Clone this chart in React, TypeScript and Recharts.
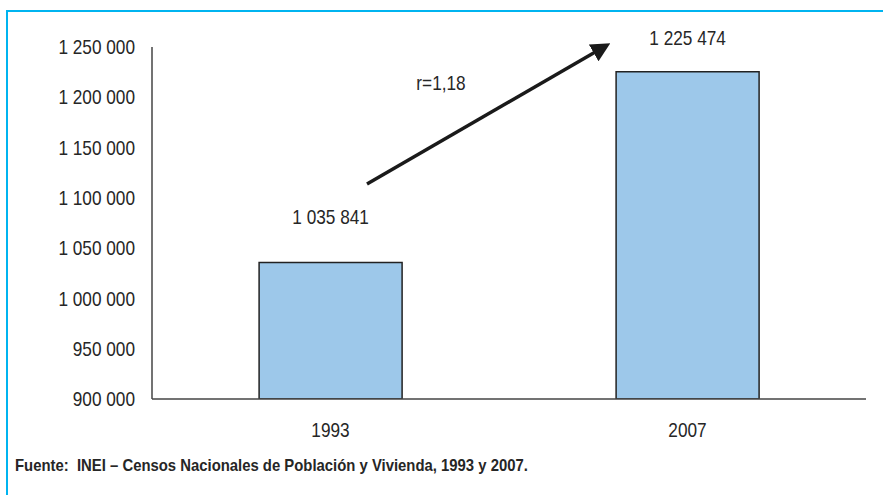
import { Bar, BarChart, LabelList, XAxis, YAxis } from "recharts";

const YEARS = ["1993", "2007"];
const POPULATION = [1035841, 1225474];
const Y_TICKS = [900000, 950000, 1000000, 1050000, 1100000, 1150000, 1200000, 1250000];
const RATIO_LABEL = "r=1,18";
const SOURCE = "Fuente:\u00a0 INEI – Censos Nacionales de Población y Vivienda, 1993 y 2007.";

const data = YEARS.map((year, i) => ({ year, value: POPULATION[i] }));

// Arial Narrow isn't installed, so squeeze Liberation Sans (Arial metrics) horizontally
const FONT = '"Liberation Sans", Arial, sans-serif';
const NARROW = 0.82;
const TEXT = "#262626";
// how far above each bar its value label sits
const LABEL_OFFSETS = [45, 34];

const fmt = (v: number) => Math.round(v).toLocaleString("en-US").replace(/,/g, " ");

function NarrowText({ x, y, anchor = "middle", size = 21, weight = "normal", squeeze = NARROW, children }: any) {
    return (
        <text
            transform={`translate(${x},${y}) scale(${squeeze},1)`}
            x={0}
            y={0}
            textAnchor={anchor}
            dominantBaseline="central"
            fill={TEXT}
            fontSize={size}
            fontWeight={weight}
            fontFamily={FONT}
        >
            {children}
        </text>
    );
}

const YTick = ({ x, y, payload }: any) => (
    <NarrowText x={x} y={y} anchor="end">{fmt(payload.value)}</NarrowText>
);

const XTick = ({ x, y, payload }: any) => (
    <NarrowText x={x} y={y}>{payload.value}</NarrowText>
);

const renderValueLabel = (props: any) => {
    const { x, y, width, value, index } = props;
    return (
        <NarrowText x={x + width / 2} y={y - LABEL_OFFSETS[index]}>
            {fmt(value)}
        </NarrowText>
    );
};

export default function App() {
    return (
        <div style={{ position: "absolute", left: 0, top: 0, width: 883, height: 495, overflow: "hidden", background: "#fff" }}>
            {/* frame */}
            <div style={{ position: "absolute", left: 6, top: 10, width: 900, height: 520, borderLeft: "2px solid #00b4f0", borderTop: "2px solid #00b4f0" }} />
            <BarChart
                width={883}
                height={495}
                data={data}
                margin={{ top: 47, right: 17, bottom: 66, left: 0 }}
                barCategoryGap="30%"
                style={{ position: "absolute", left: 0, top: 0 }}
            >
                <XAxis
                    dataKey="year"
                    height={30}
                    tickLine={false}
                    tickSize={0}
                    tickMargin={31}
                    axisLine={{ stroke: "#444", strokeWidth: 1.5 }}
                    tick={<XTick />}
                />
                <YAxis
                    width={152}
                    domain={[900000, 1250000]}
                    ticks={Y_TICKS}
                    allowDataOverflow
                    tickLine={false}
                    tickSize={0}
                    tickMargin={17}
                    axisLine={{ stroke: "#444", strokeWidth: 1.5 }}
                    tick={<YTick />}
                />
                <Bar dataKey="value" fill="#9dc8ea" stroke="#222" strokeWidth={1.5} isAnimationActive={false}>
                    <LabelList dataKey="value" content={renderValueLabel} />
                </Bar>
            </BarChart>
            <svg width={883} height={495} style={{ position: "absolute", left: 0, top: 0, pointerEvents: "none" }}>
                <defs>
                    <marker id="head" viewBox="0 0 10 10" refX="2" refY="5" markerWidth="5.5" markerHeight="5.5" orient="auto">
                        <path d="M0,0 L10,5 L0,10 z" fill="#1a1a1a" />
                    </marker>
                </defs>
                <line x1={367} y1={184} x2={597} y2={51} stroke="#1a1a1a" strokeWidth={3.5} markerEnd="url(#head)" />
                <NarrowText x={441} y={83}>{RATIO_LABEL}</NarrowText>
                <NarrowText x={15} y={465} anchor="start" size={16} weight="bold" squeeze={0.93}>{SOURCE}</NarrowText>
            </svg>
        </div>
    );
}
